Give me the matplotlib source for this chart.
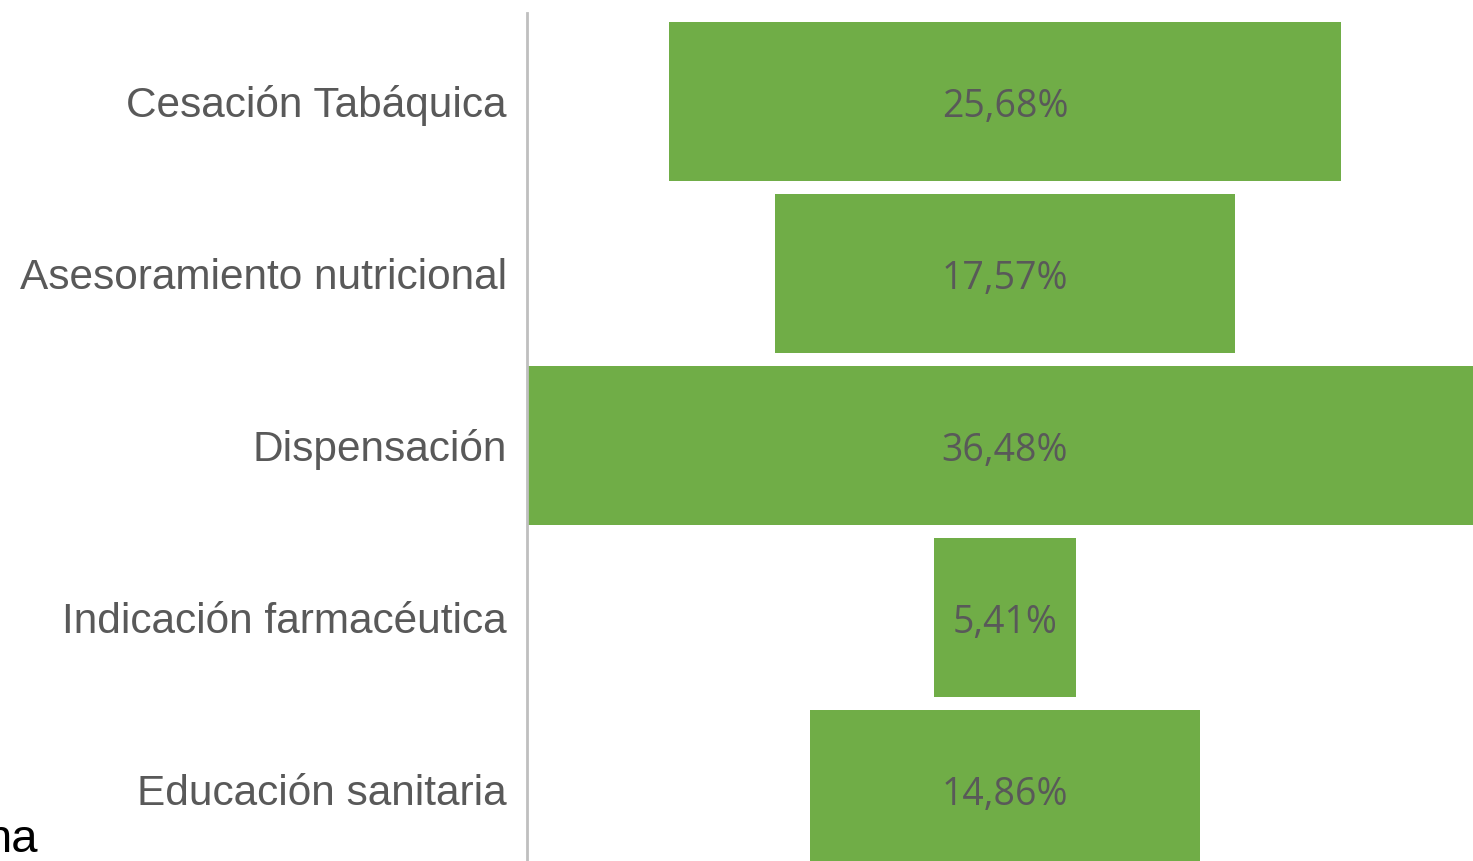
import matplotlib
matplotlib.use("Agg")
import matplotlib.pyplot as plt

categories = ["Cesación Tabáquica", "Asesoramiento nutricional", "Dispensación",
              "Indicación farmacéutica", "Educación sanitaria"]
values = [25.68, 17.57, 36.48, 5.41, 14.86]
value_labels = ["25,68%", "17,57%", "36,48%", "5,41%", "14,86%"]

W, H = 1473, 861
fig = plt.figure(figsize=(W / 100, H / 100), dpi=100)
ax_left, ax_top = 527, 13
ax = fig.add_axes([ax_left / W, 0, (W - ax_left) / W, (H - ax_top) / H])

px_per = 26.2
center = 1005
ax.set_xlim(-(center - ax_left) / px_per, (W - center) / px_per)
pitch = 172.0
row0 = 101.5
ax.set_ylim((H - row0) / pitch, -(row0 - ax_top) / pitch)

ys = list(range(len(categories)))
ax.barh(ys, values, left=[-v / 2 for v in values], height=159 / pitch,
        color="#70AD47", edgecolor="none")

for y, lab in zip(ys, value_labels):
    ax.text(0, y + 0.03, lab, ha="center", va="center", fontsize=27,
            family="Open Sans", color="#595959")

ax.set_yticks(ys)
ax.set_yticklabels(categories, fontsize=30.5, family="Liberation Sans", color="#595959")
ax.tick_params(axis="y", length=0, pad=14.5)
ax.set_xticks([])
for s in ["top", "right", "bottom"]:
    ax.spines[s].set_visible(False)
ax.spines["left"].set_color("#BFBFBF")
ax.spines["left"].set_linewidth(2)

fig.text(38 / W, 1 - 852 / H, "na", ha="right", va="baseline", fontsize=34,
         family="Liberation Sans", color="black")

fig.savefig("out.png", dpi=100)
